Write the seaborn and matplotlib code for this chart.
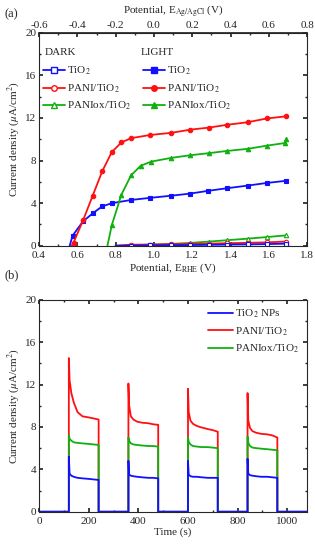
import numpy as np
import pandas as pd
import matplotlib.pyplot as plt
import seaborn as sns
from matplotlib.lines import Line2D
from matplotlib.ticker import AutoMinorLocator, MultipleLocator, FixedLocator

# --- data: panel (a) linear sweeps, E_RHE (V) vs j (uA/cm2) ---
tio2_light_e = [0.56, 0.575, 0.63, 0.684, 0.73, 0.78, 0.88, 0.98, 1.09, 1.19, 1.28, 1.38, 1.49, 1.59, 1.69]
tio2_light_j = [0.0, 0.95, 2.3, 3.1, 3.7, 4.0, 4.3, 4.5, 4.7, 4.9, 5.15, 5.4, 5.65, 5.9, 6.1]
pani_light_e = [0.57, 0.58, 0.63, 0.68, 0.73, 0.78, 0.83, 0.88, 0.98, 1.09, 1.19, 1.29, 1.38, 1.49, 1.59, 1.69]
pani_light_j = [0.0, 0.3, 2.4, 4.7, 7.0, 8.8, 9.7, 10.1, 10.4, 10.6, 10.9, 11.1, 11.35, 11.6, 11.95, 12.15]
panox_light_e = [0.757, 0.78, 0.83, 0.88, 0.93, 0.985, 1.09, 1.19, 1.29, 1.38, 1.49, 1.59, 1.685, 1.69]
panox_light_j = [0.0, 1.95, 4.8, 6.6, 7.5, 7.9, 8.25, 8.5, 8.7, 8.9, 9.1, 9.4, 9.65, 10.0]

dark_e = [0.8, 0.88, 0.98, 1.09, 1.19, 1.29, 1.38, 1.49, 1.59, 1.69]
tio2_dark_j = [0.0, 0.02, 0.04, 0.05, 0.07, 0.09, 0.11, 0.13, 0.16, 0.2]
pani_dark_j = [0.0, 0.1, 0.12, 0.15, 0.18, 0.2, 0.24, 0.28, 0.32, 0.4]
panox_dark_j = [0.0, 0.05, 0.1, 0.18, 0.27, 0.4, 0.52, 0.67, 0.82, 0.98]

# top axis (Ag/AgCl) tick values
top_ticks = [-0.6, -0.4, -0.2, 0.0, 0.2, 0.4, 0.6, 0.8]

# --- data: panel (b) chopped light, time (s) vs j (uA/cm2) ---
t_chop = [0, 120, 120, 123, 130, 140, 155, 175, 200, 220, 240, 240,
          360, 360, 363, 370, 380, 395, 415, 440, 460, 480, 480,
          600, 600, 603, 610, 620, 635, 655, 680, 700, 720, 720,
          840, 840, 843, 850, 860, 875, 895, 920, 940, 960, 960, 1080]
pani_chop = [0, 0, 14.5, 12.4, 11.2, 10.3, 9.4, 9.0, 8.9, 8.8, 8.7, 0,
             0, 12.1, 10.0, 9.0, 8.7, 8.5, 8.4, 8.35, 8.25, 8.2, 0,
             0, 11.6, 9.4, 8.6, 8.3, 8.1, 7.95, 7.8, 7.7, 7.55, 0,
             0, 11.2, 8.6, 7.9, 7.6, 7.45, 7.35, 7.3, 7.2, 7.0, 0, 0]
panox_chop = [0, 0, 7.2, 6.9, 6.7, 6.55, 6.5, 6.45, 6.4, 6.35, 6.3, 0,
              0, 7.0, 6.7, 6.45, 6.35, 6.3, 6.25, 6.2, 6.2, 6.15, 0,
              0, 7.0, 6.6, 6.35, 6.2, 6.15, 6.1, 6.1, 6.05, 6.0, 0,
              0, 7.1, 6.5, 6.2, 6.05, 6.0, 5.95, 5.9, 5.85, 5.8, 0, 0]
tio2_chop = [0, 0, 5.2, 3.6, 3.4, 3.3, 3.2, 3.15, 3.1, 3.05, 3.0, 0,
             0, 4.8, 3.5, 3.4, 3.35, 3.3, 3.25, 3.2, 3.2, 3.15, 0,
             0, 4.8, 3.5, 3.35, 3.3, 3.3, 3.25, 3.2, 3.2, 3.2, 0,
             0, 5.0, 3.6, 3.45, 3.4, 3.35, 3.3, 3.3, 3.25, 3.2, 0, 0]

BLUE, RED, GREEN = "#1010ff", "#ff1010", "#10b010"
FS = 8

sns.set_theme(style="ticks")
plt.rcParams["font.family"] = ["Liberation Serif", "DejaVu Serif"]
plt.rcParams["mathtext.fontset"] = "stix"
plt.rcParams["xtick.direction"] = "in"
plt.rcParams["ytick.direction"] = "in"

fig = plt.figure(figsize=(3.15, 5.45), dpi=100)
ax1 = fig.add_axes([0.124, 0.549, 0.851, 0.391])
ax2 = fig.add_axes([0.124, 0.061, 0.851, 0.389])

# --- panel (a) ---
def sweep(ax, e, j, color, marker, filled):
    df = pd.DataFrame({"E": e, "J": j})
    idx = list(range(1, len(e)))
    sns.lineplot(data=df, x="E", y="J", ax=ax, color=color, lw=1.3,
                 estimator=None, sort=False, marker=marker, markersize=3.2,
                 markevery=idx, markerfacecolor=color if filled else "white",
                 markeredgecolor=color, markeredgewidth=0.8)

sweep(ax1, tio2_light_e, tio2_light_j, BLUE, "s", True)
sweep(ax1, pani_light_e, pani_light_j, RED, "o", True)
sweep(ax1, panox_light_e, panox_light_j, GREEN, "^", True)
sweep(ax1, dark_e, panox_dark_j, GREEN, "^", False)
sweep(ax1, dark_e, pani_dark_j, RED, "o", False)
sweep(ax1, dark_e, tio2_dark_j, BLUE, "s", False)

ax1.set_xlim(0.4, 1.8)
ax1.set_ylim(0, 20)
ax1.xaxis.set_major_locator(MultipleLocator(0.2))
ax1.xaxis.set_minor_locator(AutoMinorLocator(2))
ax1.yaxis.set_major_locator(MultipleLocator(4))
ax1.yaxis.set_minor_locator(AutoMinorLocator(2))
ax1.set_xlabel(r"Potential, E$_{\rm RHE}$ (V)", fontsize=FS, labelpad=1)
ax1.set_ylabel(r"Current density ($\mu$A/cm$^2$)", fontsize=FS, labelpad=2)
ax1.tick_params(labelsize=FS, pad=2, right=True, which="both")
ax1.tick_params(axis="x", pad=3.5)
ax1.tick_params(which="major", length=3)
ax1.tick_params(which="minor", length=1.5)

top = ax1.secondary_xaxis("top", functions=(lambda x: x - 1.0, lambda x: x + 1.0))
top.xaxis.set_major_locator(FixedLocator(top_ticks))
top.xaxis.set_minor_locator(AutoMinorLocator(2))
top.set_xticklabels([f"{v:.1f}" for v in top_ticks])
top.tick_params(labelsize=FS, pad=2, direction="in", which="both")
top.tick_params(which="major", length=3)
top.tick_params(which="minor", length=1.5)
top.set_xlabel(r"Potential, E$_{\rm Ag/AgCl}$ (V)", fontsize=FS, labelpad=5)

ax1.text(0.02, 0.905, "DARK", transform=ax1.transAxes, fontsize=FS, va="center")
ax1.text(0.38, 0.905, "LIGHT", transform=ax1.transAxes, fontsize=FS, va="center")
names = [r"TiO$_2$", r"PANI/TiO$_2$", r"PANIox/TiO$_2$"]
handles = []
for c, m in zip([BLUE, RED, GREEN], ["s", "o", "^"]):
    handles.append(Line2D([], [], color=c, marker=m, markersize=4, lw=1.3,
                          markerfacecolor="white", markeredgecolor=c))
for c, m in zip([BLUE, RED, GREEN], ["s", "o", "^"]):
    handles.append(Line2D([], [], color=c, marker=m, markersize=4, lw=1.3,
                          markerfacecolor=c, markeredgecolor=c))
labels = names + names
ax1.legend(handles, labels, ncol=2, loc="upper left", bbox_to_anchor=(-0.01, 0.88),
           frameon=False, fontsize=FS, handlelength=2.0, handletextpad=0.2,
           columnspacing=1.0, labelspacing=0.45, borderaxespad=0.2)

# --- panel (b) ---
df_b = pd.DataFrame({"t": t_chop, "pani": pani_chop, "panox": panox_chop, "tio2": tio2_chop})
sns.lineplot(data=df_b, x="t", y="pani", ax=ax2, color=RED, lw=1.3,
             estimator=None, sort=False, label=r"PANI/TiO$_2$")
sns.lineplot(data=df_b, x="t", y="panox", ax=ax2, color=GREEN, lw=1.3,
             estimator=None, sort=False, label=r"PANIox/TiO$_2$")
sns.lineplot(data=df_b, x="t", y="tio2", ax=ax2, color=BLUE, lw=1.3,
             estimator=None, sort=False, label=r"TiO$_2$ NPs")
h, l = ax2.get_legend_handles_labels()
ax2.legend([h[2], h[0], h[1]], [l[2], l[0], l[1]], loc="upper right",
           frameon=False, fontsize=FS, handlelength=2.3, handletextpad=0.2,
           labelspacing=0.45, borderaxespad=0.3)

ax2.set_xlim(0, 1080)
ax2.set_ylim(0, 20)
ax2.xaxis.set_major_locator(MultipleLocator(200))
ax2.xaxis.set_minor_locator(AutoMinorLocator(2))
ax2.yaxis.set_major_locator(MultipleLocator(4))
ax2.yaxis.set_minor_locator(AutoMinorLocator(2))
ax2.set_xlabel("Time (s)", fontsize=FS, labelpad=1)
ax2.set_ylabel(r"Current density ($\mu$A/cm$^2$)", fontsize=FS, labelpad=2)
ax2.tick_params(labelsize=FS, pad=2, right=True, top=True, which="both")
ax2.tick_params(axis="x", pad=3.5)
ax2.tick_params(which="major", length=3)
ax2.tick_params(which="minor", length=1.5)

for ax in (ax1, ax2):
    for s in ax.spines.values():
        s.set_linewidth(0.8)

fig.text(0.015, 0.985, "(a)", fontsize=9, va="top")
fig.text(0.015, 0.505, "(b)", fontsize=9, va="top")

fig.savefig("out.png", dpi=100)
